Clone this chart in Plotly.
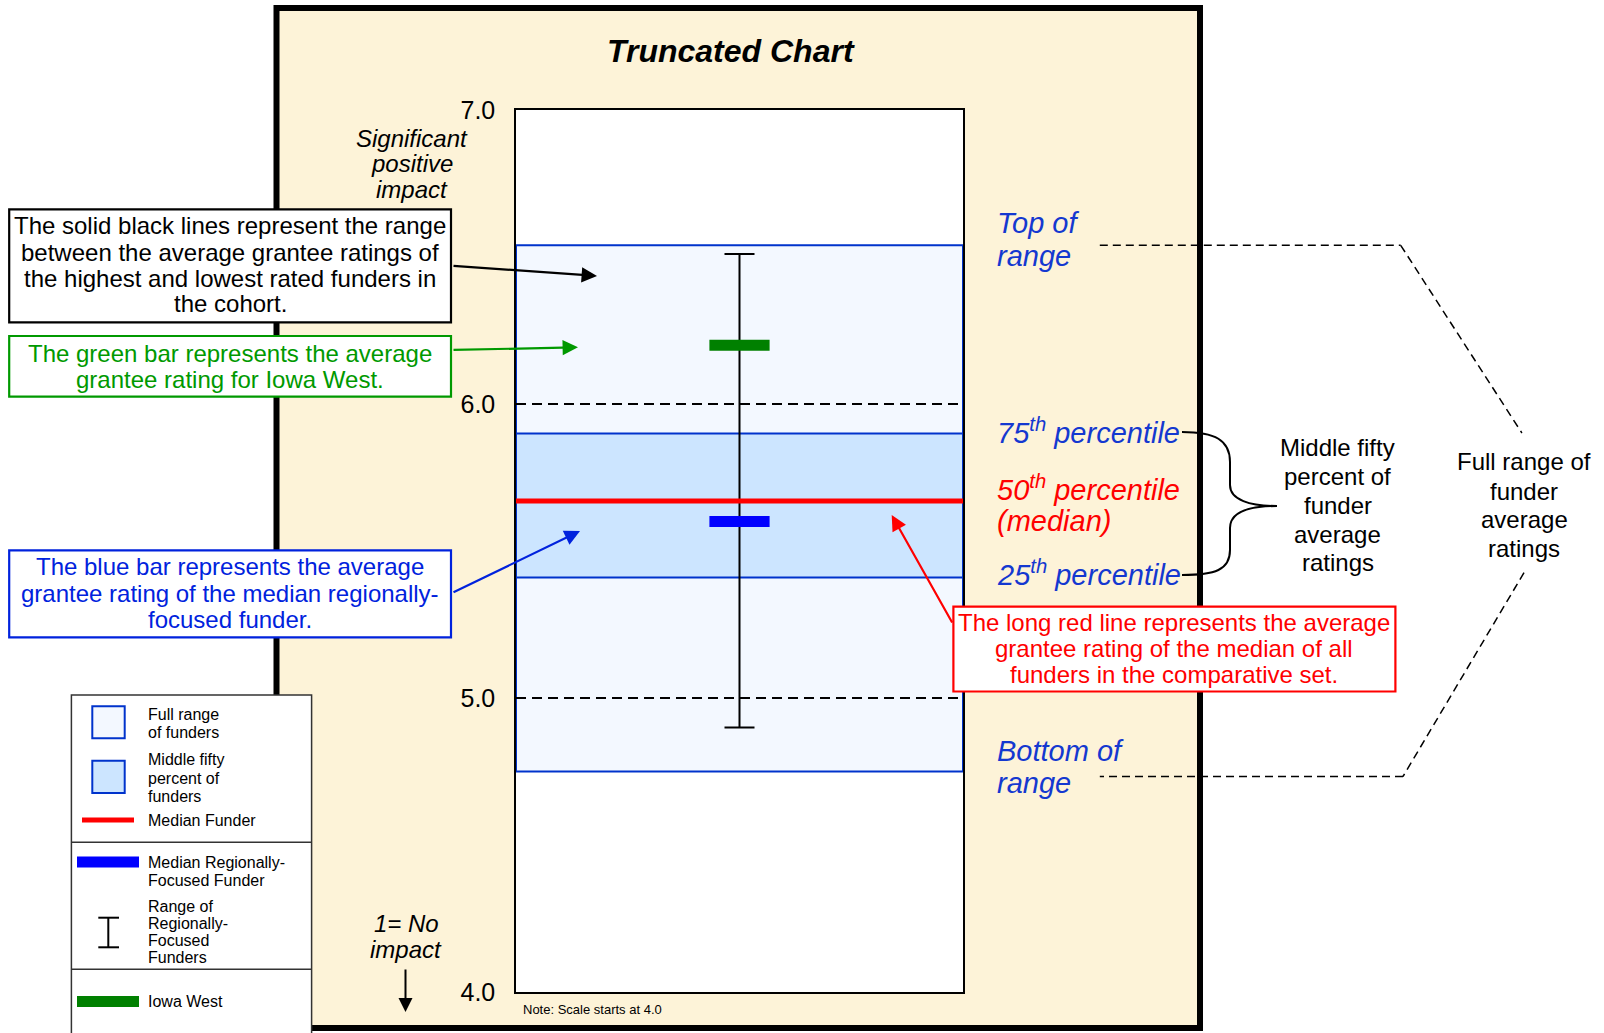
import plotly.graph_objects as go

# ---------------- data ----------------
y_ticks = [4.0, 5.0, 6.0, 7.0]
y_tick_labels = ["4.0", "5.0", "6.0", "7.0"]
full_range = [4.75, 6.54]          # bottom, top of range of all funders
middle_fifty = [5.41, 5.90]        # 25th, 75th percentile
median_all = 5.67                  # median funder
regional_range = [4.90, 6.51]      # range of regionally-focused funders
regional_median = 5.60             # median regionally-focused funder
iowa_west = 6.20                   # Iowa West

# ---------------- geometry helpers ----------------
W, H = 1604, 1033
PL, PR, PT, PB = 516, 963, 110, 992
FONT = "Liberation Sans, Arial, sans-serif"

C_CREAM = "#FDF3D8"
C_LIGHT = "#F3F8FF"
C_MID = "#CCE5FF"
C_BOXLINE = "#0033CC"
C_BLUE_TXT = "#1438D0"
C_RED = "#FF0000"
C_GREEN_TXT = "#009900"
C_GREEN = "#008000"
C_BLUE = "#0000FF"


def P(px, py):
    return ((px - PL) / (PR - PL), (PB - py) / (PB - PT))


shapes = []
annotations = []


def rect(x0, y0, x1, y1, fill, line, lw, layer="above"):
    a, b = P(x0, y0)
    c, d = P(x1, y1)
    shapes.append(dict(type="rect", xref="paper", yref="paper", x0=a, y0=b, x1=c, y1=d,
                       fillcolor=fill, line=dict(color=line, width=lw), layer=layer))


def seg(x0, y0, x1, y1, color, lw, dash="solid", layer="above"):
    a, b = P(x0, y0)
    c, d = P(x1, y1)
    shapes.append(dict(type="line", xref="paper", yref="paper", x0=a, y0=b, x1=c, y1=d,
                       line=dict(color=color, width=lw, dash=dash), layer=layer))


def path(pts_cmds, color, lw, dash="solid"):
    s = ""
    for cmd, pts in pts_cmds:
        s += cmd
        s += " ".join("%.5f,%.5f" % P(x, y) for x, y in pts) + " "
    shapes.append(dict(type="path", xref="paper", yref="paper", path=s.strip(),
                       line=dict(color=color, width=lw, dash=dash), layer="above"))


def txt(s, px, py, size, color="black", xanchor="center"):
    x, y = P(px, py)
    annotations.append(dict(text=s, x=x, y=y, xref="paper", yref="paper",
                            xanchor=xanchor, yanchor="middle", showarrow=False,
                            font=dict(family=FONT, size=size, color=color)))


def arrow(tx, ty, hx, hy, color, lw=2.2, hs=1.4):
    x, y = P(hx, hy)
    annotations.append(dict(text="", x=x, y=y, xref="paper", yref="paper",
                            ax=tx - hx, ay=ty - hy, axref="pixel", ayref="pixel",
                            showarrow=True, arrowhead=2, arrowsize=hs, arrowwidth=lw,
                            arrowcolor=color, standoff=0, startstandoff=0))


# ---------------- background frame ----------------
rect(276.5, 8, 1200, 1028, C_CREAM, "black", 6, layer="below")

# white plot area + data boxes (data coordinates)
shapes.append(dict(type="rect", xref="x", yref="y", x0=0, x1=1, y0=4, y1=7,
                   fillcolor="white", line=dict(width=0), layer="below"))
shapes.append(dict(type="rect", xref="x", yref="y", x0=0, x1=1,
                   y0=full_range[0], y1=full_range[1],
                   fillcolor=C_LIGHT, line=dict(color=C_BOXLINE, width=2), layer="below"))
shapes.append(dict(type="rect", xref="x", yref="y", x0=0, x1=1,
                   y0=middle_fifty[0], y1=middle_fifty[1],
                   fillcolor=C_MID, line=dict(color=C_BOXLINE, width=2), layer="below"))

# ---------------- traces ----------------
fig = go.Figure()
mid = (regional_range[0] + regional_range[1]) / 2
fig.add_trace(go.Scatter(
    x=[0.5], y=[mid], mode="markers",
    marker=dict(size=1, color="rgba(0,0,0,0)"),
    error_y=dict(type="data", symmetric=False,
                 array=[regional_range[1] - mid], arrayminus=[mid - regional_range[0]],
                 width=15, thickness=2, color="black"),
    showlegend=False, hoverinfo="skip"))
fig.add_trace(go.Scatter(
    x=[0, 1], y=[median_all, median_all], mode="lines",
    line=dict(color=C_RED, width=5), showlegend=False, hoverinfo="skip"))
fig.add_trace(go.Scatter(
    x=[0.5], y=[regional_median], mode="markers",
    marker=dict(symbol="line-ew", size=43, line=dict(color=C_BLUE, width=11)),
    showlegend=False, hoverinfo="skip"))
fig.add_trace(go.Scatter(
    x=[0.5], y=[iowa_west], mode="markers",
    marker=dict(symbol="line-ew", size=43, line=dict(color=C_GREEN, width=11)),
    showlegend=False, hoverinfo="skip"))

# ---------------- title & axis side texts ----------------
txt("<b><i>Truncated Chart</i></b>", 730.5, 51, 32)
for s, yy in [("Significant", 138.3), ("positive", 164), ("impact", 189.5)]:
    txt("<i>%s</i>" % s, 411.5, yy, 24)
for s, yy in [("1= No", 923), ("impact", 949.5)]:
    txt("<i>%s</i>" % s, 406, yy, 24)
arrow(405.5, 968, 405.5, 1012, "black", lw=2, hs=1.4)
txt("Note: Scale starts at 4.0", 521, 1009.3, 13, xanchor="left")

# ---------------- left explanation boxes ----------------
rect(9.2, 209.3, 451, 322.3, "white", "black", 2.2)
for s, yy in [("The solid black lines represent the range", 226),
              ("between the average grantee ratings of", 252),
              ("the highest and lowest rated funders in", 278),
              ("the cohort.", 304)]:
    txt(s, 230, yy, 24)
arrow(452, 265.7, 597, 276, "black")

rect(9.2, 336, 451, 396.7, "white", C_GREEN_TXT, 2.2)
for s, yy in [("The green bar represents the average", 353.5),
              ("grantee rating for Iowa West.", 379.5)]:
    txt(s, 230, yy, 24, C_GREEN_TXT)
arrow(452, 350, 578, 347.3, C_GREEN_TXT)

rect(9.2, 550.4, 451, 637.3, "white", "#0022DD", 2.2)
for s, yy in [("The blue bar represents the average", 566.7),
              ("grantee rating of the median regionally-", 593),
              ("focused funder.", 619)]:
    txt(s, 230, yy, 24, "#0022DD")
arrow(452, 593, 580, 531, "#0022DD")

rect(953.4, 606.6, 1395.4, 691.5, "white", C_RED, 2.2)
for s, yy in [("The long red line represents the average", 622),
              ("grantee rating of the median of all", 648.6),
              ("funders in the comparative set.", 674)]:
    txt(s, 1174.4, yy, 24, C_RED)
arrow(953, 624, 891.7, 515, C_RED)

# ---------------- right side labels ----------------
LX = 994.5
txt("<i>Top of</i>", LX, 222.9, 29, C_BLUE_TXT, "left")
txt("<i>range</i>", LX, 255.5, 29, C_BLUE_TXT, "left")
txt("<i>75<sup>th</sup> percentile</i>", LX, 431, 29, C_BLUE_TXT, "left")
txt("<i>50<sup>th</sup> percentile</i>", LX, 488, 29, C_RED, "left")
txt("<i>(median)</i>", LX, 520.8, 29, C_RED, "left")
txt("<i>25<sup>th</sup> percentile</i>", LX, 572.7, 29, C_BLUE_TXT, "left")
txt("<i>Bottom of</i>", LX, 750.6, 29, C_BLUE_TXT, "left")
txt("<i>range</i>", LX, 783, 29, C_BLUE_TXT, "left")

# curly brace
path([("M", [(1182, 432)]),
      ("C", [(1215, 432), (1230, 440), (1230, 462)]),
      ("L", [(1230, 485)]),
      ("C", [(1230, 500), (1250, 506), (1277, 506)]),
      ("C", [(1250, 506), (1230, 512), (1230, 528)]),
      ("L", [(1230, 550)]),
      ("C", [(1230, 570), (1215, 575), (1182, 575)])], "black", 2)

for s, yy in [("Middle fifty", 447.3), ("percent of", 476), ("funder", 505.3),
              ("average", 534.3), ("ratings", 562.4)]:
    txt(s, 1337.8, yy, 24)
for s, yy in [("Full range of", 461.6), ("funder", 491), ("average", 519.6),
              ("ratings", 548)]:
    txt(s, 1524, yy, 24)

DASH = "8px,5px"
seg(1099.8, 245.3, 1400.7, 245.3, "black", 1.5, DASH)
seg(1400.7, 245.3, 1521.9, 433, "black", 1.5, DASH)
seg(1524, 572.7, 1403, 776.5, "black", 1.5, DASH)
seg(1403, 776.5, 1099.8, 776.5, "black", 1.5, DASH)

# ---------------- legend panel ----------------
rect(71.4, 695, 311.6, 1045, "white", "#333333", 1.5)
seg(71.4, 842.3, 311.6, 842.3, "#333333", 1.5)
seg(71.4, 969.3, 311.6, 969.3, "#333333", 1.5)
rect(92.3, 706.3, 124.7, 738.3, C_LIGHT, C_BOXLINE, 2)
rect(92.3, 760.7, 124.7, 793, C_MID, C_BOXLINE, 2)
seg(82, 820, 134, 820, C_RED, 5)
seg(77, 862, 139, 862, C_BLUE, 11)
seg(108.3, 917.7, 108.3, 947.3, "black", 2)
seg(98.3, 917.7, 119, 917.7, "black", 2)
seg(98.3, 947.3, 119, 947.3, "black", 2)
seg(77, 1001.5, 139, 1001.5, C_GREEN, 11)
LGX = 146
for s, yy in [("Full range", 714), ("of funders", 732.7),
              ("Middle fifty", 759.3), ("percent of", 778.3), ("funders", 796.7),
              ("Median Funder", 820.7),
              ("Median Regionally-", 862.7), ("Focused Funder", 880),
              ("Range of", 906), ("Regionally-", 923.3), ("Focused", 940),
              ("Funders", 957.3), ("Iowa West", 1001.7)]:
    txt(s, LGX, yy, 16, xanchor="left")

# ---------------- layout ----------------
fig.update_layout(
    width=W, height=H,
    margin=dict(l=PL, r=W - PR, t=PT, b=H - PB, pad=0),
    paper_bgcolor="white", plot_bgcolor="white",
    shapes=shapes, annotations=annotations,
    showlegend=False,
    xaxis=dict(range=[0, 1], showticklabels=False, ticks="", showgrid=False,
               zeroline=False, showline=True, mirror=True, linecolor="black",
               linewidth=1.5, fixedrange=True),
    yaxis=dict(range=[4, 7], tickvals=y_ticks, ticktext=y_tick_labels,
               tickfont=dict(family=FONT, size=25, color="black"),
               ticks="", ticklabelstandoff=14,
               showgrid=True, gridcolor="black", gridwidth=1.5, griddash="10px,6px",
               zeroline=False, showline=True, mirror=True, linecolor="black",
               linewidth=1.5, fixedrange=True),
)

fig.write_html("out.html", config={"displayModeBar": False},
               post_script="document.body.style.margin='0';document.body.style.overflow='hidden';")
